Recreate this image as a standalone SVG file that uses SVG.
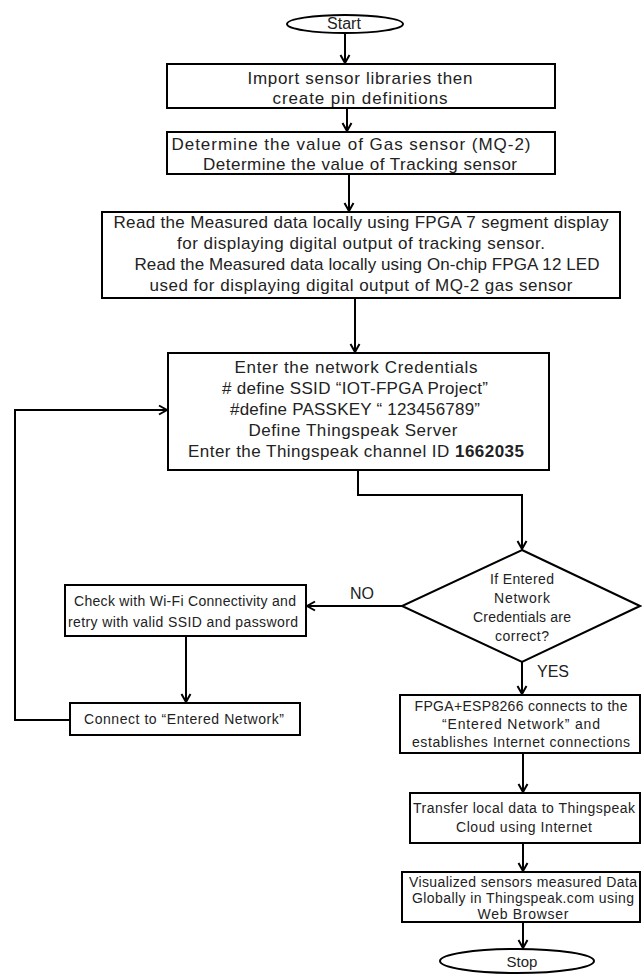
<svg xmlns="http://www.w3.org/2000/svg" width="642" height="975" viewBox="0 0 642 975">
<defs>
<marker id="ah" markerUnits="userSpaceOnUse" markerWidth="12" markerHeight="12" refX="10" refY="6" orient="auto">
<path d="M2,1.5 L10,6 L2,10.5" fill="none" stroke="#000" stroke-width="2"/>
</marker>
<style>
.box{fill:#fff;stroke:#000;stroke-width:2}
.c{fill:none;stroke:#000;stroke-width:2;marker-end:url(#ah)}
.c2{fill:none;stroke:#000;stroke-width:2}
text{font-family:"Liberation Sans",Arial,sans-serif;fill:#222;text-anchor:middle;font-size:17px}
.s{font-size:14px}
.b{font-weight:bold}
</style>
</defs>
<rect width="642" height="975" fill="#fff"/>
<g id="connectors">
<path class="c" d="M345,33 V63"/>
<path class="c" d="M347,108 V131"/>
<path class="c" d="M349,174 V211"/>
<path class="c" d="M355,298 V352"/>
<path class="c" d="M358,470 V495 H522 V549"/>
<path class="c" d="M402,606 H307"/>
<path class="c" d="M186,636 V702"/>
<path class="c" d="M70,720 H15 V410 H167"/>
<path class="c" d="M522,662 V694"/>
<path class="c" d="M523,753 V792"/>
<path class="c" d="M523,843 V871"/>
<path class="c" d="M523,922 V948"/>
<text x="362" y="599" style="font-size:16px">NO</text>
<text x="553" y="677" style="font-size:16px">YES</text>
</g>
<g id="start">
<ellipse class="box" cx="345" cy="24" rx="58" ry="9"/>
<text x="344" y="29" style="font-size:16px">Start</text>
</g>
<g id="import">
<rect class="box" x="167" y="64" width="388" height="44"/>
<text x="360" y="84" textLength="225">Import sensor libraries then</text>
<text x="360" y="104" textLength="175">create pin definitions</text>
</g>
<g id="determine">
<rect class="box" x="167" y="132" width="388" height="42"/>
<text x="351" y="150" textLength="359">Determine the value of Gas sensor (MQ-2)</text>
<text x="360" y="170" textLength="314">Determine the value of Tracking sensor</text>
</g>
<g id="read">
<rect class="box" x="102" y="212" width="518" height="86"/>
<text x="361" y="228" textLength="495">Read the Measured data locally using FPGA 7 segment display</text>
<text x="361" y="249" textLength="368">for displaying digital output of tracking sensor.</text>
<text x="367" y="270" textLength="465">Read the Measured data locally using On-chip FPGA 12 LED</text>
<text x="361" y="291" textLength="423">used for displaying digital output of MQ-2 gas sensor</text>
</g>
<g id="credentials">
<rect class="box" x="168" y="353" width="381" height="117"/>
<text x="356" y="373" textLength="243">Enter the network Credentials</text>
<text x="355" y="394" textLength="266"># define SSID “IOT-FPGA Project”</text>
<text x="355" y="415" textLength="250">#define PASSKEY “ 123456789”</text>
<text x="353" y="436" textLength="209">Define Thingspeak Server</text>
<text x="356" y="457" textLength="336">Enter the Thingspeak channel ID <tspan class="b">1662035</tspan></text>
</g>
<g id="decision">
<polygon class="box" points="522,550 640,606 522,662 402,606"/>
<text class="s" x="522" y="584" textLength="64">If Entered</text>
<text class="s" x="522" y="603" textLength="56">Network</text>
<text class="s" x="522" y="622" textLength="98">Credentials are</text>
<text class="s" x="522" y="641" textLength="54">correct?</text>
</g>
<g id="check">
<rect class="box" x="65" y="585" width="241" height="51"/>
<text class="s" x="185" y="606" textLength="222">Check with Wi-Fi Connectivity and</text>
<text class="s" x="183" y="627" textLength="230">retry with valid SSID and password</text>
</g>
<g id="connect">
<rect class="box" x="70" y="703" width="230" height="32"/>
<text class="s" x="184" y="724" textLength="200">Connect to “Entered Network”</text>
</g>
<g id="esp">
<rect class="box" x="400" y="695" width="240" height="58"/>
<text class="s" x="521" y="711" textLength="213">FPGA+ESP8266 connects to the</text>
<text class="s" x="521" y="729" textLength="158">“Entered Network” and</text>
<text class="s" x="521" y="747" textLength="218">establishes Internet connections</text>
</g>
<g id="transfer">
<rect class="box" x="410" y="793" width="230" height="50"/>
<text class="s" x="524" y="813" textLength="222">Transfer local data to Thingspeak</text>
<text class="s" x="524" y="832" textLength="136">Cloud using Internet</text>
</g>
<g id="visualize">
<rect class="box" x="402" y="872" width="238" height="50"/>
<text class="s" x="523" y="887" textLength="228">Visualized sensors measured Data</text>
<text class="s" x="523" y="903" textLength="222">Globally in Thingspeak.com using</text>
<text class="s" x="523" y="919" textLength="91">Web Browser</text>
</g>
<g id="stop">
<ellipse class="box" cx="517" cy="961" rx="77" ry="12"/>
<text x="522" y="967" style="font-size:15px">Stop</text>
</g>
</svg>
